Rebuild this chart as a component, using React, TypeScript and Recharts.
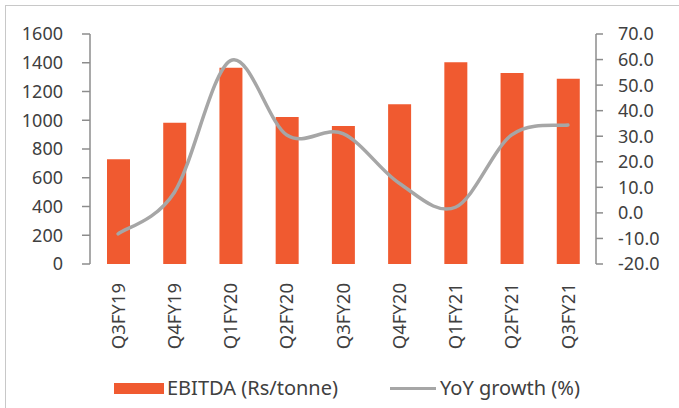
import React from "react";
import {
  ComposedChart,
  Bar,
  Line,
  XAxis,
  YAxis,
  Legend,
} from "recharts";

const QUARTERS = ["Q3FY19", "Q4FY19", "Q1FY20", "Q2FY20", "Q3FY20", "Q4FY20", "Q1FY21", "Q2FY21", "Q3FY21"];
const EBITDA = [728, 983, 1366, 1023, 960, 1111, 1403, 1329, 1289];
const YOY = [-8.2, 8.0, 59.6, 30.5, 31.0, 11.6, 2.2, 30.5, 34.4];
const LEFT_TICKS = [0, 200, 400, 600, 800, 1000, 1200, 1400, 1600];
const RIGHT_TICKS = [-20, -10, 0, 10, 20, 30, 40, 50, 60, 70];
const EDGE_TICKS = [0, 1, 2, 3, 4, 5, 6, 7, 8, 9];

const BAR_COLOR = "#F05A30";
const LINE_COLOR = "#A6A6A6";
const AXIS_COLOR = "#8C8C8C";
const TEXT_COLOR = "#404040";
const FONT = "'Noto Sans', 'Open Sans', sans-serif";

const rows = QUARTERS.map((q, i) => ({ q, ebitda: EBITDA[i], yoy: YOY[i] }));

// excel-ish smoothed line (catmull-rom through the points)
function smoothCurve(context: any) {
  let pts: number[][] = [];
  return {
    areaStart() {},
    areaEnd() {},
    lineStart() {
      pts = [];
    },
    point(x: number, y: number) {
      pts.push([+x, +y]);
    },
    lineEnd() {
      if (!pts.length) return;
      context.moveTo(pts[0][0], pts[0][1]);
      for (let i = 0; i < pts.length - 1; i++) {
        const p0 = pts[i - 1] ?? pts[i];
        const p1 = pts[i];
        const p2 = pts[i + 1];
        const p3 = pts[i + 2] ?? p2;
        context.bezierCurveTo(
          p1[0] + (p2[0] - p0[0]) / 6,
          p1[1] + (p2[1] - p0[1]) / 6,
          p2[0] - (p3[0] - p1[0]) / 6,
          p2[1] - (p3[1] - p1[1]) / 6,
          p2[0],
          p2[1]
        );
      }
    },
  };
}

const QuarterTick = (props: any) => {
  const { x, y, payload } = props;
  return (
    <text
      x={x}
      y={y}
      dy="0.36em"
      transform={`rotate(-90, ${x}, ${y})`}
      textAnchor="end"
      fill={TEXT_COLOR}
      fontSize={18.5}
      fontFamily={FONT}
    >
      {payload.value}
    </text>
  );
};

const LegendBox = () => (
  <div style={{ position: "relative", width: 679, height: 44, fontFamily: FONT, fontSize: 20, color: TEXT_COLOR }}>
    <div style={{ position: "absolute", left: 114, top: 19, width: 50, height: 11, background: BAR_COLOR }} />
    <span style={{ position: "absolute", left: 167, top: 10, lineHeight: "28px" }}>EBITDA (Rs/tonne)</span>
    <div style={{ position: "absolute", left: 390, top: 23, width: 46, height: 3, background: LINE_COLOR }} />
    <span style={{ position: "absolute", left: 440, top: 10, lineHeight: "28px" }}>YoY growth (%)</span>
  </div>
);

export default function App() {
  return (
    <div style={{ position: "absolute", left: 0, top: 0, width: 679, height: 408, background: "#fff", overflow: "hidden" }}>
      <div style={{ position: "absolute", left: 5, top: 5, width: 700, height: 430, border: "1px solid #C8C8C8" }} />
      <ComposedChart
        width={679}
        height={408}
        data={rows}
        margin={{ top: 34, right: 0, bottom: 0, left: 0 }}
        style={{ position: "absolute", left: 0, top: 0 }}
      >
        <XAxis
          xAxisId="edge"
          type="number"
          domain={[0, 9]}
          ticks={EDGE_TICKS}
          interval={0}
          tick={false}
          height={0}
          tickSize={7}
          stroke={AXIS_COLOR}
          axisLine={{ stroke: AXIS_COLOR, strokeWidth: 1.5 }}
          tickLine={{ stroke: AXIS_COLOR, strokeWidth: 1.5 }}
        />
        <XAxis
          xAxisId="cat"
          dataKey="q"
          height={100}
          axisLine={false}
          tickLine={false}
          tickSize={0}
          tickMargin={19}
          interval={0}
          tick={<QuarterTick />}
        />
        <YAxis
          yAxisId="left"
          domain={[0, 1600]}
          ticks={LEFT_TICKS}
          interval={0}
          width={90}
          tickSize={8}
          tickMargin={19}
          stroke={AXIS_COLOR}
          axisLine={{ stroke: AXIS_COLOR, strokeWidth: 1.5 }}
          tickLine={{ stroke: AXIS_COLOR, strokeWidth: 1.5 }}
          tick={{ fill: TEXT_COLOR, fontSize: 18, fontFamily: FONT }}
        />
        <YAxis
          yAxisId="right"
          orientation="right"
          domain={[-20, 70]}
          ticks={RIGHT_TICKS}
          interval={0}
          width={83}
          tickSize={7}
          tickMargin={15}
          stroke={AXIS_COLOR}
          axisLine={{ stroke: AXIS_COLOR, strokeWidth: 1.5 }}
          tickLine={{ stroke: AXIS_COLOR, strokeWidth: 1.5 }}
          tickFormatter={(v: number) => v.toFixed(1)}
          tick={{ fill: TEXT_COLOR, fontSize: 18, fontFamily: FONT, textAnchor: "start" }}
        />
        <Legend verticalAlign="bottom" height={44} content={<LegendBox />} wrapperStyle={{ left: 0, width: 679 }} />
        <Bar
          xAxisId="cat"
          yAxisId="left"
          dataKey="ebitda"
          name="EBITDA (Rs/tonne)"
          fill={BAR_COLOR}
          barSize={23}
          isAnimationActive={false}
        />
        <Line
          xAxisId="cat"
          yAxisId="right"
          dataKey="yoy"
          name="YoY growth (%)"
          type={smoothCurve as any}
          stroke={LINE_COLOR}
          strokeWidth={3.5}
          strokeLinecap="round"
          dot={false}
          activeDot={false}
          isAnimationActive={false}
        />
      </ComposedChart>
    </div>
  );
}
